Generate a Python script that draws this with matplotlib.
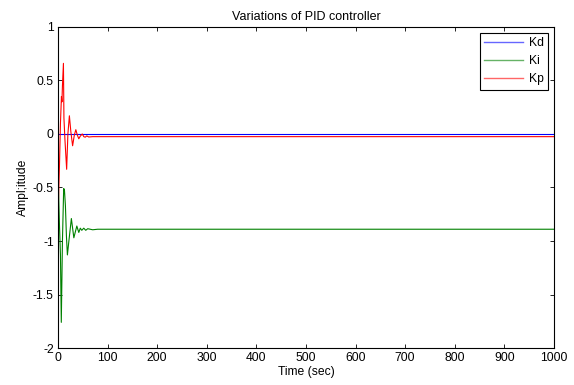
import numpy as np
import matplotlib
matplotlib.use('Agg')
import matplotlib.pyplot as plt

plt.rcParams['font.family'] = ['Liberation Sans', 'DejaVu Sans']
plt.rcParams['font.size'] = 8.7

# Kd stays on zero
t_kd = [0, 1000]
kd = [0, 0]

# Kp transient
t_kp = [0, 1, 3, 5, 7, 8, 9, 11, 12, 14, 17.5, 20, 23, 26, 29.5,
        33, 36, 39, 42, 45, 49, 52, 55, 58, 62, 70, 1000]
kp = [-0.5, -0.62, -0.3, 0.1, 0.35, 0.3, 0.45, 0.66, 0.15, -0.05, -0.33, 0.0, 0.17, 0.02, -0.11,
      -0.01, 0.04, -0.01, -0.045, -0.02, 0.0, -0.025, -0.03, -0.018, -0.028, -0.025, -0.025]

# Ki transient
t_ki = [0, 1, 3, 5, 6.7, 9, 11.5, 13, 15, 17, 19, 22, 27, 32, 38, 42,
        45, 48, 52, 56, 60, 70, 80, 100, 1000]
ki = [-0.35, -0.5, -0.85, -1.13, -1.76, -1.0, -0.51, -0.52, -0.67, -0.95, -1.13, -1.0, -0.79, -0.97, -0.86, -0.92,
      -0.88, -0.9, -0.88, -0.9, -0.885, -0.895, -0.89, -0.89, -0.89]

fig = plt.figure(figsize=(5.74, 3.85), dpi=100)
ax = fig.add_axes([0.101, 0.096, 0.864, 0.834])

ax.plot(t_kd, kd, color=(0, 0, 1), lw=0.8, label='Kd')
ax.plot(t_ki, ki, color=(0, 0.5, 0), lw=0.8, label='Ki')
ax.plot(t_kp, kp, color=(1, 0, 0), lw=0.8, label='Kp')

ax.set_xlim(0, 1000)
ax.set_ylim(-2, 1)
ax.set_xticks(np.arange(0, 1001, 100))
ax.set_yticks([-2, -1.5, -1, -0.5, 0, 0.5, 1])
ax.set_yticklabels(['-2', '-1.5', '-1', '-0.5', '0', '0.5', '1'])
ax.tick_params(direction='in', length=3, width=0.6, top=True, right=True, pad=3)
for s in ax.spines.values():
    s.set_linewidth(0.8)

ax.set_title('Variations of PID controller', fontsize=9, pad=5)
ax.set_xlabel('Time (sec)', labelpad=1)
ax.set_ylabel('Ampl;itude', labelpad=3)

leg = ax.legend(loc='upper right', fancybox=False, edgecolor='black', framealpha=1,
                handlelength=3.2, labelspacing=0.5, borderaxespad=0.5, borderpad=0.35,
                handletextpad=0.5)
leg.get_frame().set_linewidth(0.8)
for ln in leg.get_lines():
    ln.set_alpha(0.6)
    ln.set_linewidth(1.0)

plt.savefig('out.png', dpi=100)
